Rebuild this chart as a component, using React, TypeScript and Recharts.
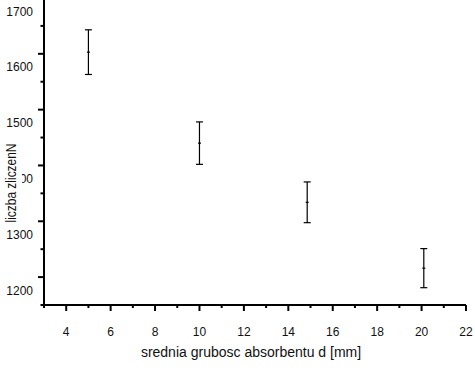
import { ScatterChart, Scatter, XAxis, YAxis, ErrorBar } from 'recharts';

const thickness = [5, 10, 14.85, 20.1];
const counts = [1603, 1440, 1334, 1216];
const errors = [40, 38, 36.5, 35];

const xTicks = [3, 4, 5, 6, 7, 8, 9, 10, 11, 12, 13, 14, 15, 16, 17, 18, 19, 20, 21, 22];
const yTicks = [1150, 1200, 1250, 1300, 1350, 1400, 1450, 1500, 1550, 1600, 1650, 1700];

const data = thickness.map((d, i) => ({ d, n: counts[i], err: errors[i] }));

const FONT = '"Liberation Sans", Arial, sans-serif';

function XTick({ x, y, payload }: any) {
  const major = payload.value % 2 === 0;
  return (
    <g>
      <line x1={x} x2={x} y1={y} y2={y + (major ? 6 : 3)} stroke="#000" strokeWidth={2} />
      {major && (
        <text x={x} y={y + 31} textAnchor="middle" fontSize={12} fontFamily={FONT} fill="#111">
          {payload.value}
        </text>
      )}
    </g>
  );
}

function YTick({ x, y, payload }: any) {
  const major = payload.value % 100 === 0;
  return (
    <g>
      <line x1={x - (major ? 6 : 3.5)} x2={x} y1={y} y2={y} stroke="#000" strokeWidth={2} />
      {major && (
        <text x={x - 11} y={y + 17.5} textAnchor="end" fontSize={12} fontFamily={FONT} fill="#111">
          {payload.value}
        </text>
      )}
    </g>
  );
}

function Marker({ cx, cy }: any) {
  return <line x1={cx - 1.5} x2={cx + 1.5} y1={cy} y2={cy} stroke="#000" strokeWidth={1.2} />;
}

export default function App() {
  return (
    <div style={{ position: 'absolute', left: 0, top: -2, width: 475, height: 372, background: '#fff' }}>
      <ScatterChart width={475} height={372} margin={{ top: 0, right: 9, bottom: 0, left: 0 }}>
        <XAxis
          type="number"
          dataKey="d"
          domain={[3, 22]}
          ticks={xTicks}
          interval={0}
          tickSize={0}
          tickMargin={0}
          tickLine={false}
          tick={<XTick />}
          height={65}
          axisLine={{ stroke: '#000', strokeWidth: 2 }}
          label={{
            content: ({ viewBox }: any) => (
              <text
                x={viewBox.x + viewBox.width / 2 - 4}
                y={viewBox.y + 52}
                textAnchor="middle"
                fontSize={14}
                fontFamily={FONT}
                fill="#111"
              >
                srednia grubosc absorbentu d [mm]
              </text>
            ),
          }}
        />
        <YAxis
          type="number"
          dataKey="n"
          domain={[1150, 1700]}
          ticks={yTicks}
          interval={0}
          tickSize={0}
          tickMargin={0}
          tickLine={false}
          tick={<YTick />}
          width={44}
          axisLine={{ stroke: '#000', strokeWidth: 2 }}
        />
        <Scatter data={data} shape={<Marker />} isAnimationActive={false}>
          <ErrorBar dataKey="err" direction="y" width={3.5} stroke="#000" strokeWidth={1.2} isAnimationActive={false} />
        </Scatter>
      </ScatterChart>
      {/* y-axis title drawn on top, its box hides part of the 1400 label as in the original */}
      <svg width={30} height={372} style={{ position: 'absolute', left: 0, top: 0 }}>
        <rect x={3} y={141} width={19} height={84} fill="#fff" />
        <text
          x={16}
          y={185}
          transform="rotate(-90 16 185)"
          textAnchor="middle"
          fontSize={14}
          fontFamily={FONT}
          fill="#111"
          textLength={79}
          lengthAdjust="spacingAndGlyphs"
        >
          liczba zliczenN
        </text>
      </svg>
    </div>
  );
}
